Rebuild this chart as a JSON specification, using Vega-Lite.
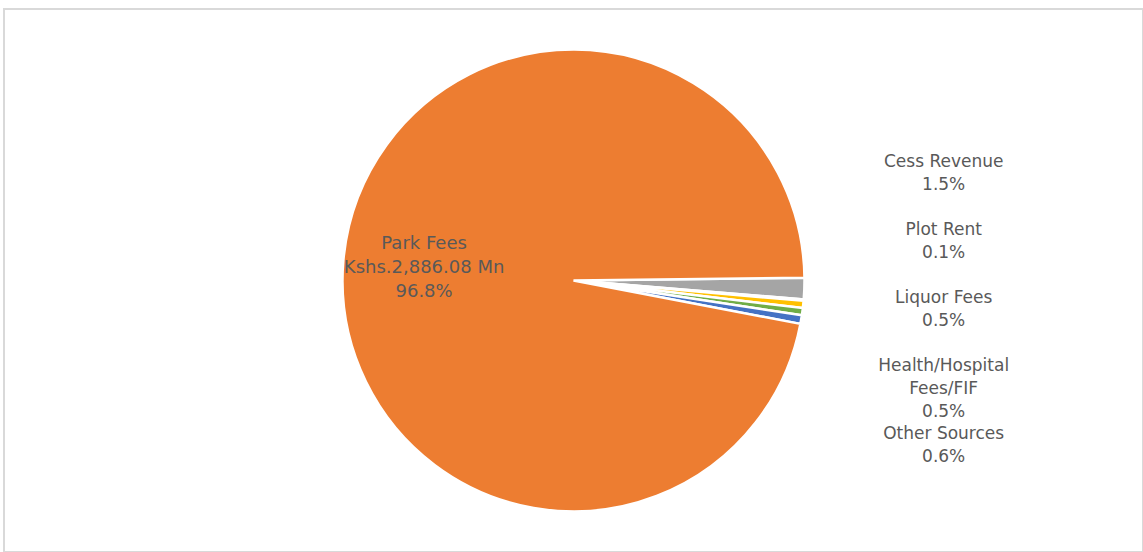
{
  "$schema": "https://vega.github.io/schema/vega-lite/v6.json",
  "width": 1143,
  "height": 552,
  "autosize": {"type": "fit", "contains": "padding"},
  "padding": {"left": 4, "top": 9, "right": 0, "bottom": 0},
  "background": "white",
  "config": {"view": {"stroke": "#d9d9d9", "strokeWidth": 2}, "text": {"font": "DejaVu Sans"}},
  "data": {"values": [
    {"name": "Cess Revenue", "share": 1.5, "idx": 1, "label": ["Cess Revenue", "1.5%"]},
    {"name": "Plot Rent", "share": 0.1, "idx": 2, "label": ["Plot Rent", "0.1%"]},
    {"name": "Liquor Fees", "share": 0.5, "idx": 3, "label": ["Liquor Fees", "0.5%"]},
    {"name": "Health/Hospital Fees/FIF", "share": 0.5, "idx": 4, "label": ["Health/Hospital", "Fees/FIF", "0.5%"]},
    {"name": "Other Sources", "share": 0.6, "idx": 5, "label": ["Other Sources", "0.6%"]},
    {"name": "Park Fees", "share": 96.8, "idx": 6, "label": ["Park Fees", "Kshs.2,886.08 Mn", "96.8%"]}
  ]},
  "layer": [
    {
      "mark": {"type": "arc", "radius": 231, "stroke": "white", "strokeWidth": 2.5},
      "encoding": {
        "theta": {"field": "share", "type": "quantitative", "stack": true, "scale": {"range": [1.5586, 7.8418]}},
        "order": {"field": "idx", "type": "quantitative"},
        "color": {
          "field": "name", "type": "nominal", "legend": null,
          "scale": {
            "domain": ["Cess Revenue", "Plot Rent", "Liquor Fees", "Health/Hospital Fees/FIF", "Other Sources", "Park Fees"],
            "range": ["#A5A5A5", "#5B9BD5", "#FFC000", "#70AD47", "#4472C4", "#ED7D31"]
          }
        }
      }
    },
    {
      "mark": {"type": "text", "radius": 150, "dy": -23, "fontSize": 18, "color": "#595959", "lineHeight": 24},
      "encoding": {
        "theta": {"field": "share", "type": "quantitative", "stack": true},
        "order": {"field": "idx", "type": "quantitative"},
        "text": {"field": "label", "type": "nominal"},
        "opacity": {"condition": {"test": "datum.name === 'Park Fees'", "value": 1}, "value": 0}
      }
    },
    {
      "transform": [{"filter": "datum.name !== 'Park Fees'"}],
      "mark": {"type": "text", "x": {"expr": "width*0.825"}, "fontSize": 17, "color": "#595959", "lineHeight": 23},
      "encoding": {
        "y": {
          "field": "name", "type": "nominal", "axis": null,
          "scale": {"type": "point", "domain": ["Cess Revenue", "Plot Rent", "Liquor Fees", "Health/Hospital Fees/FIF", "Other Sources"], "range": [153, 425], "padding": 0}
        },
        "text": {"field": "label", "type": "nominal"}
      }
    }
  ]
}
